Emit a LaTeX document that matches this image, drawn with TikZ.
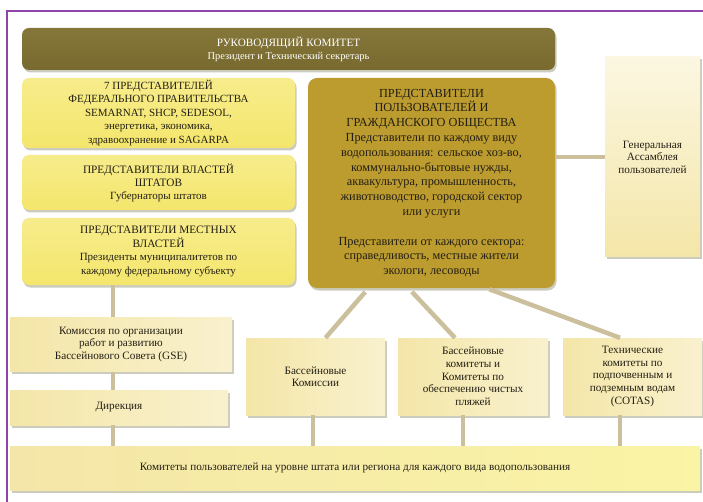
\documentclass[tikz,border=0pt]{standalone}
\usepackage{fontspec}
\setmainfont{Liberation Serif}
\usetikzlibrary{shadows,calc}
\definecolor{frame}{HTML}{8E44A8}
\definecolor{olive}{HTML}{786A2E}
\definecolor{olivetop}{HTML}{85763A}
\definecolor{yel}{HTML}{F4E66C}
\definecolor{yeltop}{HTML}{F7EC8C}
\definecolor{gold}{HTML}{BC9B2F}
\definecolor{paleL}{HTML}{F4E6A8}
\definecolor{paleR}{HTML}{F9F1CE}
\definecolor{conncol}{HTML}{CBBF9C}
\definecolor{shad}{HTML}{8C8C70}
\definecolor{txt}{HTML}{231F14}
\begin{document}
\begin{tikzpicture}[x=1pt,y=-1pt,
  shd/.style={drop shadow={shadow xshift=1.5pt,shadow yshift=-2.5pt,opacity=0.45,fill=shad}},
  banner/.style={shd,rounded corners=7pt,top color=olivetop,bottom color=olive,text=white,align=center,inner sep=0pt},
  ybox/.style={shd,rounded corners=7pt,top color=yeltop,bottom color=yel,text=txt,align=center,inner sep=0pt},
  gbox/.style={shd,rounded corners=9pt,fill=gold,text=txt,align=center,inner sep=0pt},
  pbox/.style={shd,left color=paleL,right color=paleR,text=txt,align=center,inner sep=0pt},
  conn/.style={draw=conncol,line width=4.5pt}
]
\useasboundingbox (0,0) rectangle (703,502);
\fill[white] (0,0) rectangle (703,502);
\draw[frame,line width=1.3pt] (7,502) -- (7,11) -- (703,11);

% top banner
\node[banner,minimum width=533pt,minimum height=42pt,font=\fontsize{11.2}{13}\selectfont] (top) at (288.5,49)
 {РУКОВОДЯЩИЙ КОМИТЕТ\\\fontsize{10.4}{13}\selectfont Президент и Технический секретарь};

% left yellow boxes
\node[ybox,minimum width=273pt,minimum height=70pt,font=\fontsize{11}{13.5}\selectfont] (fed) at (158.5,113)
 {7 ПРЕДСТАВИТЕЛЕЙ\\ФЕДЕРАЛЬНОГО ПРАВИТЕЛЬСТВА\\SEMARNAT, SHCP, SEDESOL,\\энергетика, экономика,\\здравоохранение и SAGARPA};
\node[ybox,minimum width=273pt,minimum height=55pt,font=\fontsize{11.3}{13}\selectfont] (states) at (158.5,182.5)
 {ПРЕДСТАВИТЕЛИ ВЛАСТЕЙ\\ШТАТОВ\\\fontsize{11}{13}\selectfont Губернаторы штатов};
\node[ybox,minimum width=273pt,minimum height=67pt,font=\fontsize{11.3}{13.5}\selectfont] (local) at (158.5,251.5)
 {ПРЕДСТАВИТЕЛИ МЕСТНЫХ\\ВЛАСТЕЙ\\\fontsize{11}{13.5}\selectfont Президенты муниципалитетов по\\\fontsize{11}{13.5}\selectfont каждому федеральному субъекту};

% big gold box
\node[gbox,minimum width=247pt,minimum height=210pt,font=\fontsize{12.3}{14.8}\selectfont] (users) at (431.5,183)
 {ПРЕДСТАВИТЕЛИ\\ПОЛЬЗОВАТЕЛЕЙ И\\ГРАЖДАНСКОГО ОБЩЕСТВА\\Представители по каждому виду\\водопользования: сельское хоз-во,\\коммунально-бытовые нужды,\\аквакультура, промышленность,\\животноводство, городской сектор\\или услуги\\[14.8pt]Представители от каждого сектора:\\справедливость, местные жители\\экологи, лесоводы};

% general assembly
\node[pbox,top color=paleR!60!white,bottom color=paleL,minimum width=95pt,minimum height=200pt,font=\fontsize{11.2}{12.5}\selectfont] (ga) at (652.5,157)
 {Генеральная\\Ассамблея\\пользователей};

% lower boxes
\node[pbox,minimum width=222pt,minimum height=54pt,font=\fontsize{11.2}{12.3}\selectfont] (com) at (121,344.5)
 {Комиссия по организации\\работ и развитию\\Бассейнового Совета (GSE)};
\node[pbox,minimum width=218pt,minimum height=35pt,font=\fontsize{11.2}{12.3}\selectfont] (dir) at (119,407.5)
 {Дирекция};
\node[pbox,minimum width=139pt,minimum height=77pt,font=\fontsize{11.2}{12.3}\selectfont] (bk) at (315.5,376.5)
 {Бассейновые\\Комиссии};
\node[pbox,minimum width=150pt,minimum height=77pt,font=\fontsize{11.2}{12.7}\selectfont] (bc) at (473,376.5)
 {Бассейновые\\комитеты и\\Комитеты по\\обеспечению чистых\\пляжей};
\node[pbox,minimum width=139pt,minimum height=77pt,font=\fontsize{11.2}{12.7}\selectfont] (tc) at (632.5,376.5)
 {Технические\\комитеты по\\подпочвенным и\\подземным водам\\(COTAS)};
\node[pbox,left color=paleL,right color=paleR!80!yellow,minimum width=690pt,minimum height=44pt,font=\fontsize{11.2}{12.3}\selectfont] (bot) at (355,468)
 {Комитеты пользователей на уровне штата или региона для каждого вида водопользования};

% connectors
\draw[conn] ([xshift=-8pt]com.north) -- ([xshift=-8pt]com.north |- local.south);
\draw[conn] ([xshift=-6pt]dir.north) -- ([xshift=-6pt]dir.north |- com.south);
\draw[conn] ([xshift=-6pt]bot.north -| dir.north) -- ([xshift=-6pt]dir.south);
\draw[conn] (ga.west) -- (ga.west -| users.east);
\draw[conn,shorten <=5pt] ([xshift=-63pt]users.south) -- ([xshift=10pt]bk.north);
\draw[conn,shorten <=5pt] ([xshift=-23pt]users.south) -- ([xshift=-18pt]bc.north);
\draw[conn,shorten <=3pt] ([xshift=55pt]users.south) -- ([xshift=-12.5pt]tc.north);
\draw[conn] ([xshift=-2.5pt]bk.south) -- ([xshift=-2.5pt]bk.south |- bot.north);
\draw[conn] ([xshift=-10pt]bc.south) -- ([xshift=-10pt]bc.south |- bot.north);
\draw[conn] ([xshift=-12.5pt]tc.south) -- ([xshift=-12.5pt]tc.south |- bot.north);
\end{tikzpicture}
\end{document}
